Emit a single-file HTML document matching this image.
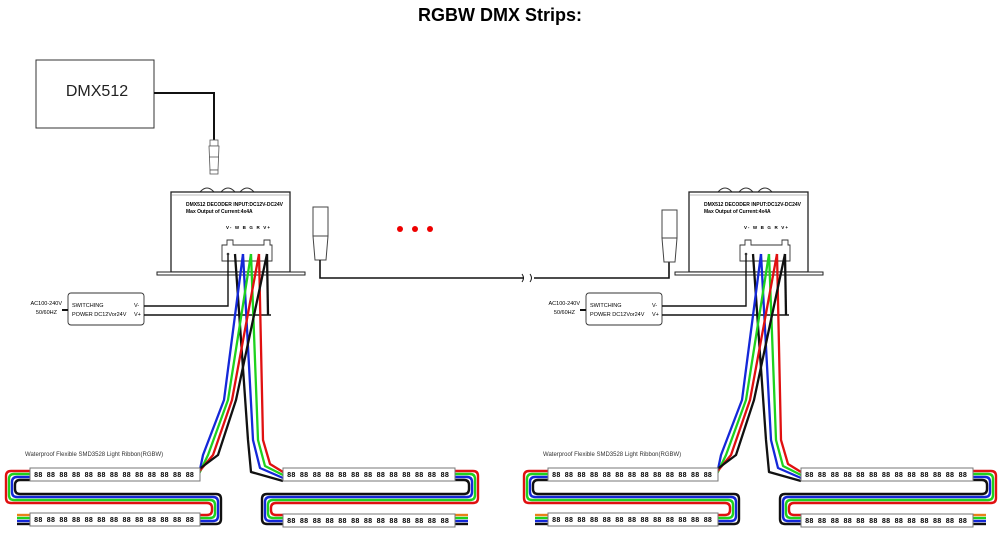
<!DOCTYPE html>
<html><head><meta charset="utf-8"><style>
html,body{margin:0;padding:0;background:#fff;}
svg{display:block;}
text{font-family:"Liberation Sans",sans-serif;}
.m{font-family:"Liberation Mono",monospace;font-weight:bold;font-size:7px;}
</style></head><body>
<svg width="1000" height="537" viewBox="0 0 1000 537" xmlns="http://www.w3.org/2000/svg">
<text x="500" y="21" text-anchor="middle" font-size="18" font-weight="bold">RGBW DMX Strips:</text>

<!-- DMX512 box -->
<rect x="36" y="60" width="118" height="68" fill="#fff" stroke="#333" stroke-width="1"/>
<text x="97" y="96" text-anchor="middle" font-size="16" fill="#222">DMX512</text>
<polyline points="154,93 214,93 214,141" fill="none" stroke="#111" stroke-width="2"/>
<rect x="210" y="140" width="8" height="6" fill="#fff" stroke="#555" stroke-width="0.8"/>
<path d="M209,146 H219 L218,170 H210 Z" fill="#fff" stroke="#555" stroke-width="0.8"/>
<line x1="209" y1="157" x2="219" y2="157" stroke="#555" stroke-width="0.8"/>
<rect x="210" y="170" width="8" height="4" fill="#fff" stroke="#555" stroke-width="0.8"/>

<!-- connector middle left -->
<rect x="313" y="207" width="15" height="29" fill="#fff" stroke="#444" stroke-width="1"/>
<path d="M313,236 H328 L326,260 H315 Z" fill="#fff" stroke="#444" stroke-width="1"/>
<polyline points="320,260 320,278 524,278" fill="none" stroke="#111" stroke-width="1.6"/>
<path d="M522,282 q3,-4 0,-8 M530,282 q3,-4 0,-8" fill="none" stroke="#111" stroke-width="1"/>
<polyline points="534,278 669,278 669,262" fill="none" stroke="#111" stroke-width="1.6"/>
<!-- connector right -->
<rect x="662" y="210" width="15" height="28" fill="#fff" stroke="#444" stroke-width="1"/>
<path d="M662,238 H677 L675,262 H664 Z" fill="#fff" stroke="#444" stroke-width="1"/>

<circle cx="400" cy="229" r="3" fill="#e00"/>
<circle cx="415" cy="229" r="3" fill="#e00"/>
<circle cx="430" cy="229" r="3" fill="#e00"/>

<g id="unitL">
<!-- decoder -->
<path d="M200,192 q7,-8 14,0 M221,192 q7,-8 14,0 M240,192 q7,-8 14,0" fill="#fff" stroke="#333" stroke-width="1"/>
<rect x="171" y="192" width="119" height="80" fill="#fff" stroke="#222" stroke-width="1.3"/>
<line x1="171" y1="195" x2="290" y2="195" stroke="#777" stroke-width="0.6"/>
<rect x="157" y="272" width="148" height="3" fill="#fff" stroke="#222" stroke-width="1"/>
<text x="186" y="206" font-size="5" font-weight="bold">DMX512 DECODER INPUT:DC12V-DC24V</text>
<text x="186" y="213" font-size="5" font-weight="bold">Max Output of Current:4x4A</text>
<text x="226" y="229" font-size="4.5" font-weight="bold" textLength="44">V- W B G R V+</text>
<path d="M222,245 H227 V240 H233 V245 H264 V240 H270 V245 H272 V261 H222 Z" fill="#fff" stroke="#333" stroke-width="0.9"/>
<!-- power supply -->
<rect x="68" y="293" width="76" height="32" rx="3" fill="#fff" stroke="#333" stroke-width="0.9"/>
<text x="72" y="307" font-size="5.5">SWITCHING</text>
<text x="72" y="316" font-size="5.5">POWER DC12Vor24V</text>
<text x="134" y="307" font-size="5.5">V-</text>
<text x="134" y="316" font-size="5.5">V+</text>
<text x="62" y="305" font-size="5.5" text-anchor="end">AC100-240V</text>
<text x="57" y="314" font-size="5.5" text-anchor="end">50/60HZ</text>
<line x1="62" y1="310" x2="68" y2="310" stroke="#111" stroke-width="2"/>
<polyline points="144,306 228,306 228,254" fill="none" stroke="#111" stroke-width="1.4"/>
<polyline points="144,315 271,315" fill="none" stroke="#111" stroke-width="1.4"/>
<circle cx="228" cy="254" r="1.3" fill="#333"/>
<!-- wires right group -->
<g fill="none" stroke-width="2.3" stroke-linejoin="round">
<polyline points="235,254 248,440 251,472 283,481" stroke="#111"/>
<polyline points="243,254 253,440 260,468 283,478" stroke="#1428d8"/>
<polyline points="251,254 258,440 265,466 283,475" stroke="#1ed21e"/>
<polyline points="259,254 263,440 270,464 283,472" stroke="#e01010"/>
<!-- left group -->
<polyline points="243,254 224,400 203,455 198,479" stroke="#1428d8"/>
<polyline points="251,254 228,400 208,455 198,476" stroke="#1ed21e"/>
<polyline points="259,254 232,400 213,455 198,473" stroke="#e01010"/>
<polyline points="267,254 236,400 218,455 198,470" stroke="#111"/>
<polyline points="267,254 268,315" stroke="#111"/>
</g>
<!-- loops left -->
<g fill="none" stroke-width="2.4">
<path d="M32,471 H11 Q6,471 6,476 V498 Q6,503 11,503 H207 Q212,503 212,508 V510 Q212,515 207,515 H198" stroke="#e01010"/>
<path d="M32,474 H14 Q9,474 9,479 V495 Q9,500 14,500 H210 Q215,500 215,505 V513 Q215,518 210,518 H198" stroke="#1ed21e"/>
<path d="M32,477 H17 Q12,477 12,482 V492 Q12,497 17,497 H213 Q218,497 218,502 V516 Q218,521 213,521 H198" stroke="#1428d8"/>
<path d="M32,480 H20 Q15,480 15,485 V489 Q15,494 20,494 H216 Q221,494 221,499 V519 Q221,524 216,524 H198" stroke="#111"/>
<path d="M17,515 H32" stroke="#e8801a"/><path d="M17,518 H32" stroke="#1ed21e"/><path d="M17,521 H32" stroke="#1428d8"/><path d="M17,524 H32" stroke="#111"/>
<!-- loops right -->
<path d="M453,471 H473 Q478,471 478,476 V498 Q478,503 473,503 H276 Q271,503 271,508 V510 Q271,515 276,515 H290" stroke="#e01010"/>
<path d="M453,474 H470 Q475,474 475,479 V495 Q475,500 470,500 H273 Q268,500 268,505 V513 Q268,518 273,518 H290" stroke="#1ed21e"/>
<path d="M453,477 H467 Q472,477 472,482 V492 Q472,497 467,497 H270 Q265,497 265,502 V516 Q265,521 270,521 H290" stroke="#1428d8"/>
<path d="M453,480 H464 Q469,480 469,485 V489 Q469,494 464,494 H267 Q262,494 262,499 V519 Q262,524 267,524 H290" stroke="#111"/>
<path d="M453,515 H468" stroke="#e8801a"/><path d="M453,518 H468" stroke="#1ed21e"/><path d="M453,521 H468" stroke="#1428d8"/><path d="M453,524 H468" stroke="#111"/>
</g>
<!-- strips -->
<text x="25" y="456" font-size="6" fill="#333">Waterproof Flexible SMD3528 Light Ribbon(RGBW)</text>
<rect x="30" y="468" width="170" height="13" fill="#fff" stroke="#777" stroke-width="1"/>
<rect x="30" y="513" width="170" height="13" fill="#fff" stroke="#777" stroke-width="1"/>
<rect x="283" y="468" width="172" height="13" fill="#fff" stroke="#777" stroke-width="1"/>
<rect x="283" y="514" width="172" height="13" fill="#fff" stroke="#777" stroke-width="1"/>
<text class="m" x="34" y="477" textLength="160" lengthAdjust="spacingAndGlyphs">88 88 88 88 88 88 88 88 88 88 88 88 88</text>
<text class="m" x="34" y="522" textLength="160" lengthAdjust="spacingAndGlyphs">88 88 88 88 88 88 88 88 88 88 88 88 88</text>
<text class="m" x="287" y="477" textLength="162" lengthAdjust="spacingAndGlyphs">88 88 88 88 88 88 88 88 88 88 88 88 88</text>
<text class="m" x="287" y="523" textLength="162" lengthAdjust="spacingAndGlyphs">88 88 88 88 88 88 88 88 88 88 88 88 88</text>
</g>

<g transform="translate(518,0)">
<path d="M200,192 q7,-8 14,0 M221,192 q7,-8 14,0 M240,192 q7,-8 14,0" fill="#fff" stroke="#333" stroke-width="1"/>
<rect x="171" y="192" width="119" height="80" fill="#fff" stroke="#222" stroke-width="1.3"/>
<line x1="171" y1="195" x2="290" y2="195" stroke="#777" stroke-width="0.6"/>
<rect x="157" y="272" width="148" height="3" fill="#fff" stroke="#222" stroke-width="1"/>
<text x="186" y="206" font-size="5" font-weight="bold">DMX512 DECODER INPUT:DC12V-DC24V</text>
<text x="186" y="213" font-size="5" font-weight="bold">Max Output of Current:4x4A</text>
<text x="226" y="229" font-size="4.5" font-weight="bold" textLength="44">V- W B G R V+</text>
<path d="M222,245 H227 V240 H233 V245 H264 V240 H270 V245 H272 V261 H222 Z" fill="#fff" stroke="#333" stroke-width="0.9"/>
<rect x="68" y="293" width="76" height="32" rx="3" fill="#fff" stroke="#333" stroke-width="0.9"/>
<text x="72" y="307" font-size="5.5">SWITCHING</text>
<text x="72" y="316" font-size="5.5">POWER DC12Vor24V</text>
<text x="134" y="307" font-size="5.5">V-</text>
<text x="134" y="316" font-size="5.5">V+</text>
<text x="62" y="305" font-size="5.5" text-anchor="end">AC100-240V</text>
<text x="57" y="314" font-size="5.5" text-anchor="end">50/60HZ</text>
<line x1="62" y1="310" x2="68" y2="310" stroke="#111" stroke-width="2"/>
<polyline points="144,306 228,306 228,254" fill="none" stroke="#111" stroke-width="1.4"/>
<polyline points="144,315 271,315" fill="none" stroke="#111" stroke-width="1.4"/>
<circle cx="228" cy="254" r="1.3" fill="#333"/>
<g fill="none" stroke-width="2.3" stroke-linejoin="round">
<polyline points="235,254 248,440 251,472 283,481" stroke="#111"/>
<polyline points="243,254 253,440 260,468 283,478" stroke="#1428d8"/>
<polyline points="251,254 258,440 265,466 283,475" stroke="#1ed21e"/>
<polyline points="259,254 263,440 270,464 283,472" stroke="#e01010"/>
<polyline points="243,254 224,400 203,455 198,479" stroke="#1428d8"/>
<polyline points="251,254 228,400 208,455 198,476" stroke="#1ed21e"/>
<polyline points="259,254 232,400 213,455 198,473" stroke="#e01010"/>
<polyline points="267,254 236,400 218,455 198,470" stroke="#111"/>
<polyline points="267,254 268,315" stroke="#111"/>
</g>
<g fill="none" stroke-width="2.4">
<path d="M32,471 H11 Q6,471 6,476 V498 Q6,503 11,503 H207 Q212,503 212,508 V510 Q212,515 207,515 H198" stroke="#e01010"/>
<path d="M32,474 H14 Q9,474 9,479 V495 Q9,500 14,500 H210 Q215,500 215,505 V513 Q215,518 210,518 H198" stroke="#1ed21e"/>
<path d="M32,477 H17 Q12,477 12,482 V492 Q12,497 17,497 H213 Q218,497 218,502 V516 Q218,521 213,521 H198" stroke="#1428d8"/>
<path d="M32,480 H20 Q15,480 15,485 V489 Q15,494 20,494 H216 Q221,494 221,499 V519 Q221,524 216,524 H198" stroke="#111"/>
<path d="M17,515 H32" stroke="#e8801a"/><path d="M17,518 H32" stroke="#1ed21e"/><path d="M17,521 H32" stroke="#1428d8"/><path d="M17,524 H32" stroke="#111"/>
<path d="M453,471 H473 Q478,471 478,476 V498 Q478,503 473,503 H276 Q271,503 271,508 V510 Q271,515 276,515 H290" stroke="#e01010"/>
<path d="M453,474 H470 Q475,474 475,479 V495 Q475,500 470,500 H273 Q268,500 268,505 V513 Q268,518 273,518 H290" stroke="#1ed21e"/>
<path d="M453,477 H467 Q472,477 472,482 V492 Q472,497 467,497 H270 Q265,497 265,502 V516 Q265,521 270,521 H290" stroke="#1428d8"/>
<path d="M453,480 H464 Q469,480 469,485 V489 Q469,494 464,494 H267 Q262,494 262,499 V519 Q262,524 267,524 H290" stroke="#111"/>
<path d="M453,515 H468" stroke="#e8801a"/><path d="M453,518 H468" stroke="#1ed21e"/><path d="M453,521 H468" stroke="#1428d8"/><path d="M453,524 H468" stroke="#111"/>
</g>
<text x="25" y="456" font-size="6" fill="#333">Waterproof Flexible SMD3528 Light Ribbon(RGBW)</text>
<rect x="30" y="468" width="170" height="13" fill="#fff" stroke="#777" stroke-width="1"/>
<rect x="30" y="513" width="170" height="13" fill="#fff" stroke="#777" stroke-width="1"/>
<rect x="283" y="468" width="172" height="13" fill="#fff" stroke="#777" stroke-width="1"/>
<rect x="283" y="514" width="172" height="13" fill="#fff" stroke="#777" stroke-width="1"/>
<text class="m" x="34" y="477" textLength="160" lengthAdjust="spacingAndGlyphs">88 88 88 88 88 88 88 88 88 88 88 88 88</text>
<text class="m" x="34" y="522" textLength="160" lengthAdjust="spacingAndGlyphs">88 88 88 88 88 88 88 88 88 88 88 88 88</text>
<text class="m" x="287" y="477" textLength="162" lengthAdjust="spacingAndGlyphs">88 88 88 88 88 88 88 88 88 88 88 88 88</text>
<text class="m" x="287" y="523" textLength="162" lengthAdjust="spacingAndGlyphs">88 88 88 88 88 88 88 88 88 88 88 88 88</text>
</g>
</svg>
</body></html>
